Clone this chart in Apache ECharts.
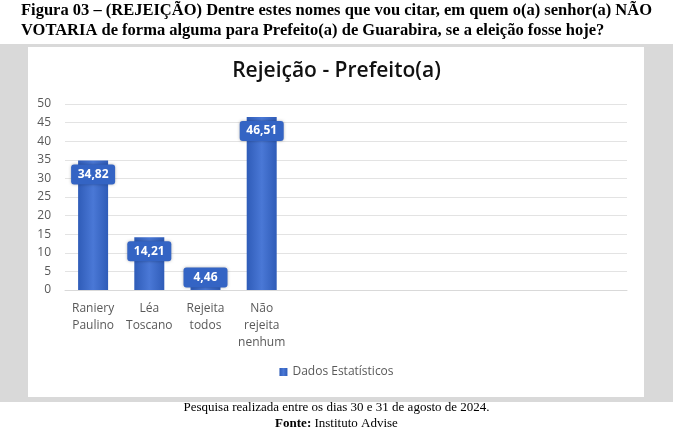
<!DOCTYPE html>
<html>
<head>
<meta charset="utf-8">
<script src="https://cdn.jsdelivr.net/npm/echarts@6/dist/echarts.min.js"></script>
<style>
    html, body { margin: 0; padding: 0; background: #fff; }
    #chart { width: 673px; height: 435px; }
</style>
</head>
<body>
<div id="chart"></div>
<script>
// Data
var categories = ['Raniery\nPaulino', 'Léa\nToscano', 'Rejeita\ntodos', 'Não\nrejeita\nnenhum', '', '', '', '', '', ''];
var values = [34.82, 14.21, 4.46, 46.51];
var seriesName = 'Dados Estatísticos';

var chart = echarts.init(document.getElementById('chart'));

var barData = values.map(function(v) {
    var item = { value: v };
    if (v < 8) {
        item.label = { position: 'top', distance: -14 };
    }
    return item;
});

chart.setOption({
    animation: false,
    graphic: [
        { type: 'rect', z: -10, shape: { x: 0, y: 44, width: 673, height: 358 }, style: { fill: '#d9d9d9' } },
        { type: 'rect', z: -9, shape: { x: 28, y: 47, width: 616, height: 350 }, style: { fill: '#ffffff' } },
        {
            type: 'text', left: 'center', top: 1,
            style: {
                text: 'Figura 03 – (REJEIÇÃO) Dentre estes nomes que vou citar, em quem o(a) senhor(a) NÃO\nVOTARIA de forma alguma para Prefeito(a) de Guarabira, se a eleição fosse hoje?',
                font: 'bold 16.5px "Liberation Serif", serif', fill: '#000', align: 'center', lineHeight: 20
            }
        },
        {
            type: 'text', left: 'center', top: 401,
            style: {
                text: 'Pesquisa realizada entre os dias 30 e 31 de agosto de 2024.',
                font: '13px "Liberation Serif", serif', fill: '#000'
            }
        },
        {
            type: 'text', left: 'center', top: 417,
            style: {
                text: '{b|Fonte:} Instituto Advise',
                font: '13px "Liberation Serif", serif', fill: '#000',
                rich: { b: { fontWeight: 'bold', fontFamily: 'Liberation Serif', fontSize: 13 } }
            }
        }
    ],
    title: {
        text: 'Rejeição - Prefeito(a)',
        left: 'center',
        top: 56,
        textStyle: { fontFamily: 'Open Sans', fontSize: 21, fontWeight: 600, color: '#111' }
    },
    legend: {
        data: [seriesName],
        bottom: 52,
        left: 'center',
        icon: 'rect',
        itemWidth: 8,
        itemHeight: 8,
        itemGap: 6,
        textStyle: { fontFamily: 'Open Sans', fontSize: 12, color: '#595959' }
    },
    grid: { left: 65, right: 46, top: 104, bottom: 145 },
    xAxis: {
        type: 'category',
        data: categories,
        axisLine: { lineStyle: { color: '#d9d9d9' } },
        axisTick: { show: false },
        axisLabel: { interval: 0, color: '#595959', fontFamily: 'Open Sans', fontSize: 12, lineHeight: 17, margin: 10 }
    },
    yAxis: {
        type: 'value',
        min: 0, max: 50, interval: 5,
        axisLine: { show: false },
        axisTick: { show: false },
        axisLabel: { color: '#595959', fontFamily: 'Open Sans', fontSize: 12, margin: 14 },
        splitLine: { lineStyle: { color: '#e3e3e3' } }
    },
    series: [{
        name: seriesName,
        type: 'bar',
        barWidth: 30,
        data: barData,
        itemStyle: {
            color: new echarts.graphic.LinearGradient(0, 0, 1, 0, [
                { offset: 0, color: '#2f5cb8' },
                { offset: 0.5, color: '#4a78d6' },
                { offset: 1, color: '#2f5cb8' }
            ])
        },
        label: {
            show: true,
            position: 'insideTop',
            distance: 4,
            formatter: function(p) { return p.value.toFixed(2).replace('.', ','); },
            color: '#fff',
            fontFamily: 'Open Sans',
            fontSize: 12,
            fontWeight: 'bold',
            backgroundColor: '#3464c4',
            borderRadius: 3,
            padding: [4, 3],
            width: 38,
            align: 'center',
            shadowColor: 'rgba(0,0,0,0.3)',
            shadowBlur: 3
        }
    }]
});
</script>
</body>
</html>
